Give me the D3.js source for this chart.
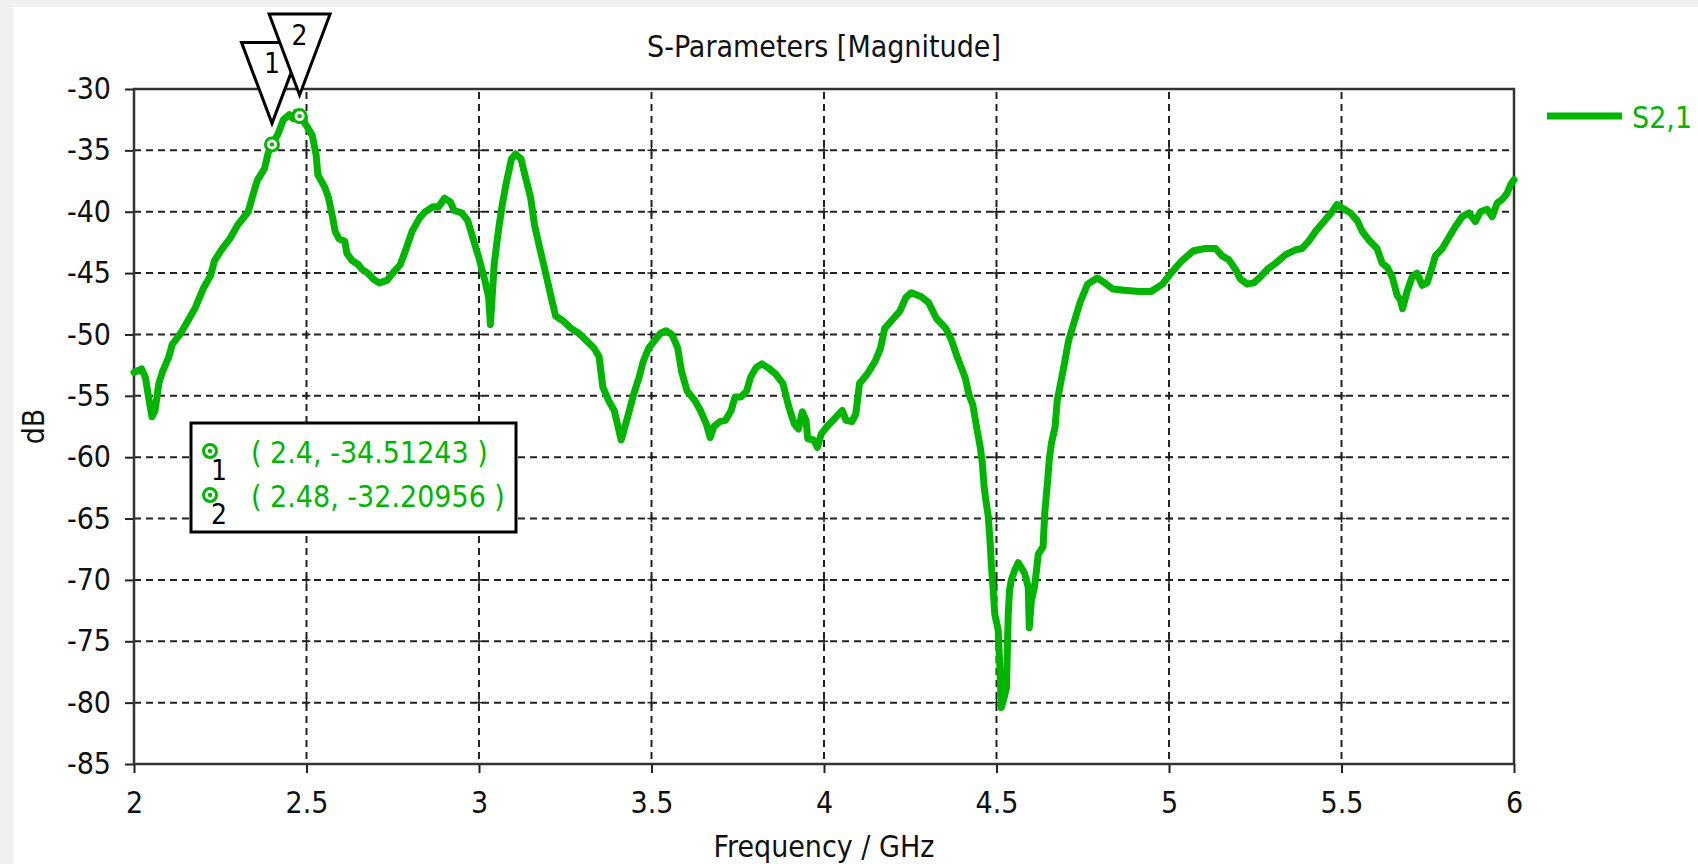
<!DOCTYPE html>
<html>
<head>
<meta charset="utf-8">
<script src="https://cdn.jsdelivr.net/npm/d3@7"></script>
<style>
  html, body { margin: 0; padding: 0; background: #f0f0f0; }
  svg { display: block; }
  text { font-family: "DejaVu Sans Condensed", "DejaVu Sans", sans-serif; }
</style>
</head>
<body>
<div id="chart"></div>
<script>
// S2,1 magnitude in dB
const freq = [
  2.000, 2.022, 2.033, 2.044, 2.052, 2.061, 2.072, 2.083, 2.100, 2.111, 2.133, 2.156, 2.178, 2.200, 2.222,
  2.233, 2.256, 2.278, 2.300, 2.331, 2.344, 2.358, 2.378, 2.389, 2.400, 2.417, 2.433, 2.450, 2.461, 2.470,
  2.480, 2.500, 2.517, 2.528, 2.533, 2.553, 2.564, 2.576, 2.583, 2.594, 2.611, 2.617, 2.633, 2.650, 2.661,
  2.678, 2.694, 2.711, 2.733, 2.750, 2.772, 2.789, 2.806, 2.828, 2.844, 2.867, 2.883, 2.900, 2.917, 2.928,
  2.950, 2.967, 2.983, 3.000, 3.017, 3.028, 3.033, 3.038, 3.044, 3.056, 3.067, 3.078, 3.094, 3.106, 3.122,
  3.133, 3.150, 3.161, 3.178, 3.194, 3.211, 3.222, 3.244, 3.267, 3.289, 3.311, 3.333, 3.348, 3.359, 3.376,
  3.392, 3.403, 3.412, 3.420, 3.431, 3.448, 3.464, 3.476, 3.492, 3.509, 3.526, 3.542, 3.559, 3.576, 3.587,
  3.603, 3.626, 3.642, 3.659, 3.670, 3.681, 3.698, 3.714, 3.731, 3.742, 3.759, 3.776, 3.787, 3.803, 3.820,
  3.837, 3.859, 3.881, 3.898, 3.914, 3.926, 3.937, 3.948, 3.953, 3.970, 3.981, 3.992, 4.009, 4.026, 4.042,
  4.053, 4.064, 4.081, 4.092, 4.103, 4.126, 4.148, 4.164, 4.176, 4.198, 4.220, 4.237, 4.253, 4.281, 4.303,
  4.326, 4.353, 4.370, 4.387, 4.409, 4.420, 4.431, 4.442, 4.453, 4.459, 4.464, 4.470, 4.476, 4.481, 4.486,
  4.490, 4.495, 4.505, 4.510, 4.514, 4.520, 4.529, 4.532, 4.534, 4.538, 4.543, 4.553, 4.563, 4.572, 4.582,
  4.592, 4.595, 4.601, 4.610, 4.616, 4.621, 4.635, 4.640, 4.648, 4.653, 4.659, 4.670, 4.676, 4.687, 4.698,
  4.709, 4.726, 4.742, 4.764, 4.792, 4.814, 4.837, 4.870, 4.914, 4.948, 4.981, 5.003, 5.037, 5.070, 5.086,
  5.106, 5.135, 5.154, 5.173, 5.193, 5.207, 5.227, 5.246, 5.265, 5.285, 5.309, 5.338, 5.367, 5.386, 5.405,
  5.425, 5.449, 5.473, 5.487, 5.502, 5.526, 5.545, 5.560, 5.579, 5.603, 5.618, 5.632, 5.647, 5.661, 5.671,
  5.677, 5.690, 5.705, 5.719, 5.734, 5.748, 5.763, 5.772, 5.792, 5.811, 5.830, 5.850, 5.869, 5.888, 5.903,
  5.922, 5.937, 5.951, 5.966, 5.980, 5.990, 6.000
];
const s21 = [
  -53.1, -52.8, -53.5, -55.4, -56.7, -56.2, -54.0, -53.0, -51.9, -50.8, -50.0, -48.9, -47.8, -46.3, -45.2,
  -44.0, -43.0, -42.2, -41.1, -40.0, -38.7, -37.4, -36.5, -35.2, -34.5, -33.7, -32.5, -32.1, -32.4, -31.9,
  -32.2, -33.0, -33.8, -35.4, -37.0, -38.0, -38.9, -40.5, -41.6, -42.2, -42.4, -43.4, -44.0, -44.3, -44.7,
  -45.0, -45.5, -45.8, -45.6, -45.0, -44.3, -43.0, -41.6, -40.5, -40.0, -39.6, -39.6, -38.9, -39.2, -39.9,
  -40.1, -40.7, -42.2, -43.8, -45.6, -47.0, -49.2, -47.0, -44.3, -41.6, -39.5, -37.8, -35.7, -35.3, -35.7,
  -37.0, -38.9, -41.1, -43.2, -45.1, -47.2, -48.5, -48.9, -49.5, -49.9, -50.5, -51.1, -51.8, -54.3, -55.4,
  -56.2, -57.5, -58.6, -57.8, -56.7, -54.9, -53.5, -52.2, -51.1, -50.5, -49.9, -49.7, -50.0, -51.1, -53.0,
  -54.6, -55.4, -56.2, -57.3, -58.4, -57.5, -57.1, -57.0, -56.2, -55.1, -55.1, -54.6, -53.5, -52.7, -52.4,
  -52.7, -53.2, -54.0, -55.9, -57.3, -57.7, -56.3, -57.0, -58.5, -58.6, -59.2, -58.1, -57.5, -57.0, -56.5,
  -56.2, -57.0, -57.1, -56.5, -54.0, -53.2, -52.2, -51.1, -49.5, -48.8, -48.1, -47.0, -46.6, -46.9, -47.4,
  -48.7, -49.5, -50.5, -51.9, -53.5, -54.9, -55.7, -57.5, -59.2, -60.5, -62.4, -63.7, -64.8, -66.7, -69.2,
  -70.6, -72.8, -74.1, -77.4, -80.4, -79.8, -78.8, -75.0, -72.8, -70.8, -70.0, -69.2, -68.6, -69.0, -69.5,
  -70.6, -73.9, -71.7, -70.6, -69.2, -67.9, -67.3, -64.5, -62.0, -60.2, -58.9, -57.5, -55.4, -53.8, -52.2,
  -50.5, -48.9, -47.4, -45.9, -45.4, -45.8, -46.3, -46.4, -46.5, -46.5, -45.9, -45.1, -44.0, -43.2, -43.1,
  -43.0, -43.0, -43.6, -43.9, -44.7, -45.5, -45.9, -45.8, -45.3, -44.7, -44.2, -43.5, -43.1, -43.0, -42.4,
  -41.6, -40.8, -40.0, -39.4, -39.7, -40.1, -40.7, -41.6, -42.3, -43.0, -44.2, -44.5, -45.3, -46.8, -47.2,
  -47.9, -46.5, -45.3, -45.0, -46.0, -45.8, -44.5, -43.6, -43.0, -42.1, -41.2, -40.4, -40.1, -40.8, -40.0,
  -39.8, -40.4, -39.3, -39.0, -38.5, -37.8, -37.4
];

const xTicks = [2, 2.5, 3, 3.5, 4, 4.5, 5, 5.5, 6];
const xTickLabels = ["2", "2.5", "3", "3.5", "4", "4.5", "5", "5.5", "6"];
const yTicks = [-30, -35, -40, -45, -50, -55, -60, -65, -70, -75, -80, -85];
const yTickLabels = ["-30", "-35", "-40", "-45", "-50", "-55", "-60", "-65", "-70", "-75", "-80", "-85"];

const markerIds = ["1", "2"];
const markerFreq = [2.4, 2.48];
const markerVal = [-34.51243, -32.20956];
const markerText = ["( 2.4, -34.51243 )", "( 2.48, -32.20956 )"];

const seriesName = "S2,1";
const chartTitle = "S-Parameters [Magnitude]";
const xTitle = "Frequency / GHz";
const yTitle = "dB";

const width = 1698, height = 864;
const margin = { top: 89, right: 184, bottom: 100, left: 134 };
const green = "#00b400";
const fontSize = 30;

const svg = d3.select("#chart").append("svg")
  .attr("width", width)
  .attr("height", height);

// white panel, grey strip at top and left
svg.append("rect").attr("width", width).attr("height", height).attr("fill", "#f0f0f0");
svg.append("rect").attr("x", 13).attr("y", 7).attr("width", width - 13).attr("height", height - 7).attr("fill", "#fff");

const x = d3.scaleLinear().domain([2, 6]).range([margin.left, width - margin.right]);
const y = d3.scaleLinear().domain([-85, -30]).range([height - margin.bottom, margin.top]);

const [px0, px1] = x.range();
const [py1, py0] = y.range();

// grid
const grid = svg.append("g").attr("stroke", "#222").attr("stroke-width", 2).attr("stroke-dasharray", "7,5");
grid.selectAll(".vg").data(xTicks.slice(1, -1)).enter().append("line")
  .attr("x1", d => x(d)).attr("x2", d => x(d))
  .attr("y1", py0 + 3).attr("y2", py1);
grid.selectAll(".hg").data(yTicks.slice(1, -1)).enter().append("line")
  .attr("x1", px0).attr("x2", px1 - 4)
  .attr("y1", d => y(d)).attr("y2", d => y(d));

// small crosses where grid lines meet
const cross = svg.append("g").attr("stroke", "#222").attr("stroke-width", 1.5);
xTicks.slice(1, -1).forEach(xv => {
  yTicks.slice(1, -1).forEach(yv => {
    cross.append("line").attr("x1", x(xv)).attr("x2", x(xv)).attr("y1", y(yv) - 4).attr("y2", y(yv) + 4);
    cross.append("line").attr("x1", x(xv) - 4).attr("x2", x(xv) + 4).attr("y1", y(yv)).attr("y2", y(yv));
  });
});

// axes
const xAxis = svg.append("g")
  .attr("transform", `translate(0,${py1})`)
  .call(d3.axisBottom(x).tickValues(xTicks).tickSize(9).tickPadding(19)
    .tickFormat((d, i) => xTickLabels[i]));
const yAxis = svg.append("g")
  .attr("transform", `translate(${px0},0)`)
  .call(d3.axisLeft(y).tickValues(yTicks).tickSize(9).tickPadding(14)
    .tickFormat((d, i) => yTickLabels[i]));

[xAxis, yAxis].forEach(a => {
  a.select(".domain").remove();
  a.selectAll(".tick line").attr("stroke", "#222").attr("stroke-width", 2);
  a.selectAll(".tick text").attr("fill", "#111").style("font-size", fontSize + "px")
    .style("font-family", '"DejaVu Sans Condensed", "DejaVu Sans", sans-serif');
});

// frame
svg.append("rect")
  .attr("x", px0).attr("y", py0)
  .attr("width", px1 - px0).attr("height", py1 - py0)
  .attr("fill", "none").attr("stroke", "#333").attr("stroke-width", 2.5);

// curve
const pts = d3.zip(freq, s21);
const line = d3.line().x(d => x(d[0])).y(d => y(d[1]));
svg.append("path")
  .datum(pts)
  .attr("d", line)
  .attr("fill", "none")
  .attr("stroke", green)
  .attr("stroke-width", 7)
  .attr("stroke-linejoin", "round")
  .attr("stroke-linecap", "round");

// marker symbols on the curve
function ringMark(g, cx, cy) {
  g.append("circle").attr("cx", cx).attr("cy", cy).attr("r", 6.5)
    .attr("fill", "#fff").attr("stroke", green).attr("stroke-width", 3);
  g.append("circle").attr("cx", cx).attr("cy", cy).attr("r", 2.2).attr("fill", green);
}
const marks = svg.append("g");
markerFreq.forEach((f, i) => ringMark(marks, x(f), y(markerVal[i])));

// triangle flags above the markers
const flags = svg.append("g");
markerFreq.forEach((f, i) => {
  const ax = x(f), ay = y(markerVal[i]) - 21;
  const top = ay - 81, hw = 30.5;
  flags.append("path")
    .attr("d", `M${ax - hw},${top}L${ax + hw},${top}L${ax},${ay}Z`)
    .attr("fill", "#fff").attr("stroke", "#000").attr("stroke-width", 3)
    .attr("stroke-linejoin", "miter");
  flags.append("text")
    .attr("x", ax).attr("y", top + 31)
    .attr("text-anchor", "middle")
    .style("font-size", "28px")
    .attr("fill", "#000")
    .text(markerIds[i]);
});

// marker readout box
const box = svg.append("g");
box.append("rect")
  .attr("x", 191).attr("y", 423).attr("width", 325).attr("height", 109)
  .attr("fill", "#fff").attr("stroke", "#000").attr("stroke-width", 3);
markerText.forEach((t, i) => {
  const rowY = 451 + i * 44;
  ringMark(box, 210, rowY);
  box.append("text")
    .attr("x", 219).attr("y", rowY + 29)
    .attr("text-anchor", "middle")
    .style("font-size", "28px").attr("fill", "#000")
    .text(markerIds[i]);
  box.append("text")
    .attr("x", 251).attr("y", rowY + 12)
    .style("font-size", fontSize + "px").attr("fill", green)
    .text(t);
});

// legend
const leg = svg.append("g");
leg.append("line")
  .attr("x1", 1547).attr("x2", 1622).attr("y1", 116).attr("y2", 116)
  .attr("stroke", green).attr("stroke-width", 7);
leg.append("text")
  .attr("x", 1632).attr("y", 128)
  .style("font-size", fontSize + "px").attr("fill", green)
  .text(seriesName);

// titles
svg.append("text")
  .attr("x", (px0 + px1) / 2).attr("y", 57)
  .attr("text-anchor", "middle")
  .style("font-size", fontSize + "px").attr("fill", "#111")
  .text(chartTitle);
svg.append("text")
  .attr("x", (px0 + px1) / 2).attr("y", 857)
  .attr("text-anchor", "middle")
  .style("font-size", fontSize + "px").attr("fill", "#111")
  .text(xTitle);
svg.append("text")
  .attr("transform", `translate(44,${(py0 + py1) / 2}) rotate(-90)`)
  .attr("text-anchor", "middle")
  .style("font-size", fontSize + "px").attr("fill", "#111")
  .text(yTitle);
</script>
</body>
</html>
